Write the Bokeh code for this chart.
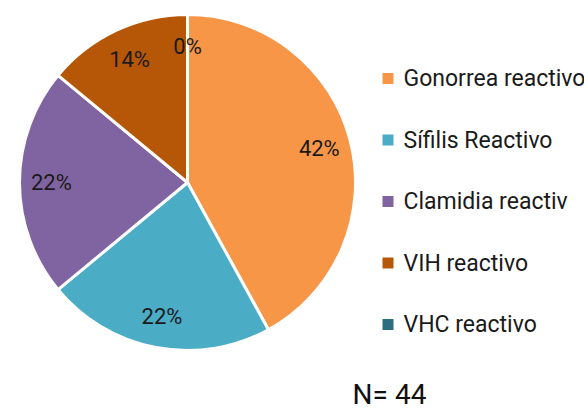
import math
from bokeh.plotting import figure
from bokeh.models import Range1d, ColumnDataSource
from bokeh.core.properties import value
from bokeh.embed import file_html
from bokeh.resources import INLINE

categories = ["Gonorrea reactivo", "Sífilis Reactivo", "Clamidia reactiv", "VIH reactivo", "VHC reactivo"]
percents = [42, 22, 22, 14, 0]
colors = ["#F79646", "#4BACC6", "#8064A2", "#B65708", "#2C6E7F"]
n_total = 44

W, H = 584, 411
FONT = "Roboto"

p = figure(width=W, height=H, output_backend="svg", toolbar_location=None,
           x_range=Range1d(0, W), y_range=Range1d(0, H), min_border=0)
p.axis.visible = False
p.grid.visible = False
p.outline_line_color = None
p.background_fill_color = "white"

def Y(page_y):
    return H - page_y

cx, cy, R = 187, Y(182), 168
total = sum(percents)
starts, ends, wcol, lx, ly, labels = [], [], [], [], [], []
acc = 0.0
for v, c in zip(percents, colors):
    a0 = math.pi / 2 - 2 * math.pi * acc / total
    a1 = math.pi / 2 - 2 * math.pi * (acc + v) / total
    if v > 0:
        starts.append(a0)
        ends.append(a1)
        wcol.append(c)
    mid = (a0 + a1) / 2
    lx.append(cx + 0.81 * R * math.cos(mid))
    ly.append(cy + 0.81 * R * math.sin(mid))
    labels.append(f"{v}%")
    acc += v

src = ColumnDataSource(dict(start=starts, end=ends, color=wcol))
p.wedge(x=cx, y=cy, radius=R, start_angle="start", end_angle="end", direction="clock",
        fill_color="color", line_color="white", line_width=3, source=src)

p.text(x=lx, y=ly, text=labels, text_align="center", text_baseline="middle",
       text_font=value(FONT), text_font_size="22px", text_color="#1a1a1a")

# legend
leg_y = [Y(78 + 61.5 * i) for i in range(len(categories))]
p.scatter(x=[387.5] * len(categories), y=leg_y, marker="square", size=11,
          fill_color=colors, line_color=None)
p.text(x=[403] * len(categories), y=leg_y, text=categories, text_align="left",
       text_baseline="middle", text_font=value(FONT), text_font_size="23px",
       text_color="#1a1a1a")

p.text(x=[389], y=[Y(394)], text=[f"N= {n_total}"], text_align="center",
       text_baseline="middle", text_font=value(FONT), text_font_size="28px",
       text_color="#111111")

open("out.html", "w").write(file_html(p, INLINE))
